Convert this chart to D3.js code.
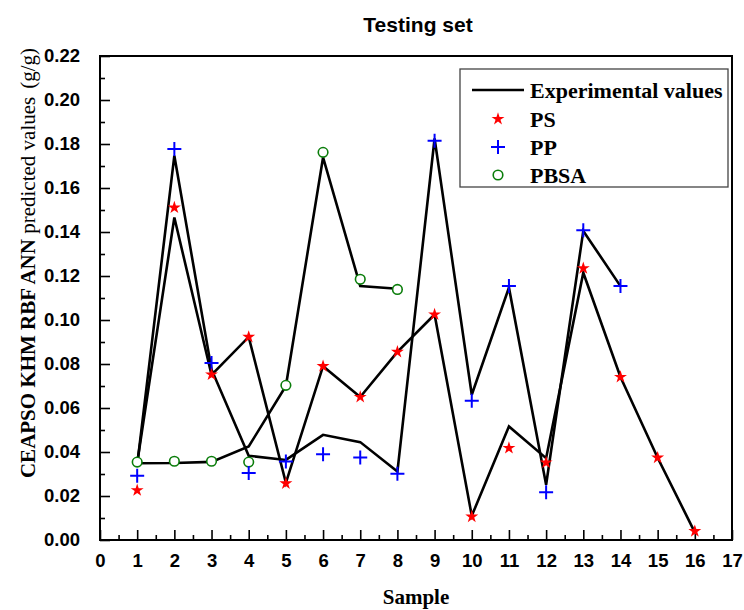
<!DOCTYPE html>
<html>
<head>
<meta charset="utf-8">
<script src="https://cdn.jsdelivr.net/npm/d3@7"></script>
<style>
  body { margin: 0; background: #fff; }
  svg { display: block; }
</style>
</head>
<body>
<div id="chart"></div>
<script>
// Measured vs. predicted uptake for the testing set (g/g)
const psExperimental = [0.035, 0.1466, 0.075, 0.0923, 0.026, 0.079, 0.065, 0.0855, 0.1025, 0.011, 0.0516, 0.0372, 0.1215, 0.0741, 0.0374, 0.0035];
const psPredicted = [0.0226, 0.1511, 0.0752, 0.0923, 0.0257, 0.0790, 0.0650, 0.0855, 0.1025, 0.0106, 0.0418, 0.0352, 0.1235, 0.0741, 0.0374, 0.0040];

const ppExperimental = [0.034, 0.1747, 0.0775, 0.0383, 0.0364, 0.0478, 0.0445, 0.0311, 0.1825, 0.066, 0.1147, 0.0251, 0.1405, 0.1154];
const ppPredicted = [0.0292, 0.1777, 0.0805, 0.0304, 0.0357, 0.0390, 0.0375, 0.0301, 0.1815, 0.0633, 0.1154, 0.0217, 0.1408, 0.1154];

const pbsaExperimental = [0.0349, 0.0350, 0.0355, 0.0425, 0.0700, 0.1739, 0.1154, 0.1142];
const pbsaPredicted = [0.0354, 0.0358, 0.0358, 0.0354, 0.0703, 0.1762, 0.1185, 0.1139];

const xTickValues = [0, 1, 2, 3, 4, 5, 6, 7, 8, 9, 10, 11, 12, 13, 14, 15, 16, 17];
const yTickValues = [0, 0.02, 0.04, 0.06, 0.08, 0.10, 0.12, 0.14, 0.16, 0.18, 0.20, 0.22];
const legendLabels = ['Experimental values', 'PS', 'PP', 'PBSA'];

class TestingChart {

  constructor(_config) {
    this.config = {
      parentElement: _config.parentElement,
      containerWidth: 744,
      containerHeight: 610,
      margin: {top: 56, right: 12, bottom: 70, left: 100},
      sansFont: '"Liberation Sans", Arial, sans-serif',
      serifFont: '"Liberation Serif", "Times New Roman", serif'
    };
    this.initVis();
  }

  initVis() {
    let vis = this;
    const cfg = vis.config;

    vis.width = cfg.containerWidth - cfg.margin.left - cfg.margin.right;
    vis.height = cfg.containerHeight - cfg.margin.top - cfg.margin.bottom;

    vis.svg = d3.select(cfg.parentElement).append('svg')
        .attr('width', cfg.containerWidth)
        .attr('height', cfg.containerHeight);

    vis.chart = vis.svg.append('g')
        .attr('transform', `translate(${cfg.margin.left},${cfg.margin.top})`);

    vis.xScale = d3.scaleLinear().domain([0, 17]).range([0, vis.width]);
    vis.yScale = d3.scaleLinear().domain([0, 0.22]).range([vis.height, 0]);

    vis.renderAxes();
    vis.renderSeries();
    vis.renderLegend();
    vis.renderTitles();
  }

  renderAxes() {
    let vis = this;
    const cfg = vis.config;

    // minor ticks first, inward
    vis.chart.append('g')
        .attr('transform', `translate(0,${vis.height})`)
        .call(d3.axisBottom(vis.xScale).tickValues(xTickValues.slice(0, -1).map(d => d + 0.5))
          .tickSize(-5).tickFormat(''))
        .call(g => g.select('.domain').remove());
    vis.chart.append('g')
        .call(d3.axisLeft(vis.yScale).tickValues(yTickValues.slice(0, -1).map(d => d + 0.01))
          .tickSize(-5).tickFormat(''))
        .call(g => g.select('.domain').remove());

    const xAxis = vis.chart.append('g')
        .attr('transform', `translate(0,${vis.height})`)
        .call(d3.axisBottom(vis.xScale).tickValues(xTickValues).tickSize(-10).tickPadding(14)
          .tickFormat(d3.format('d')));
    const yAxis = vis.chart.append('g')
        .call(d3.axisLeft(vis.yScale).tickValues(yTickValues).tickSize(-10).tickPadding(20)
          .tickFormat(d3.format('.2f')));

    [xAxis, yAxis].forEach(g => {
      g.selectAll('.domain').remove();
      g.selectAll('text')
          .attr('fill', '#000')
          .style('font-family', cfg.sansFont)
          .style('font-weight', 'bold')
          .style('font-size', '18.5px');
    });
    vis.chart.selectAll('.tick line').attr('stroke', '#000').attr('stroke-width', 1.6);

    // plot frame
    vis.chart.append('rect')
        .attr('width', vis.width)
        .attr('height', vis.height)
        .attr('fill', 'none')
        .attr('stroke', '#000')
        .attr('stroke-width', 2);
  }

  renderSeries() {
    let vis = this;

    const line = d3.line()
        .x((d, i) => vis.xScale(i + 1))
        .y(d => vis.yScale(d));

    [psExperimental, ppExperimental, pbsaExperimental].forEach(values => {
      vis.chart.append('path')
          .datum(values)
          .attr('fill', 'none')
          .attr('stroke', '#000')
          .attr('stroke-width', 2.6)
          .attr('stroke-linejoin', 'miter')
          .attr('d', line);
    });

    // PBSA: open circles
    vis.chart.selectAll('.pbsa')
        .data(pbsaPredicted)
      .join('circle')
        .attr('class', 'pbsa')
        .attr('cx', (d, i) => vis.xScale(i + 1))
        .attr('cy', d => vis.yScale(d))
        .attr('r', 4.8)
        .attr('fill', '#fff')
        .attr('stroke', '#0a7d0a')
        .attr('stroke-width', 1.6);

    // PP: plus signs
    vis.chart.selectAll('.pp')
        .data(ppPredicted)
      .join('path')
        .attr('class', 'pp')
        .attr('transform', (d, i) => `translate(${vis.xScale(i + 1)},${vis.yScale(d)})`)
        .attr('d', vis.plusPath(7))
        .attr('stroke', '#0000ff')
        .attr('stroke-width', 2);

    // PS: filled stars
    vis.chart.selectAll('.ps')
        .data(psPredicted)
      .join('path')
        .attr('class', 'ps')
        .attr('transform', (d, i) => `translate(${vis.xScale(i + 1)},${vis.yScale(d)})`)
        .attr('d', d3.symbol(d3.symbolStar, 52)())
        .attr('fill', '#ff0000');
  }

  plusPath(h) {
    return `M${-h},0H${h}M0,${-h}V${h}`;
  }

  renderLegend() {
    let vis = this;
    const cfg = vis.config;

    const legend = vis.svg.append('g').attr('transform', 'translate(460,69)');
    legend.append('rect')
        .attr('width', 268)
        .attr('height', 118)
        .attr('fill', '#fff')
        .attr('stroke', '#444')
        .attr('stroke-width', 1.3);

    const rowY = [21, 50, 78, 106];
    const symX = 38;

    legend.selectAll('text')
        .data(legendLabels)
      .join('text')
        .attr('x', 70)
        .attr('y', (d, i) => rowY[i])
        .attr('dy', '0.35em')
        .style('font-family', cfg.serifFont)
        .style('font-weight', 'bold')
        .style('font-size', '22px')
        .text(d => d);

    legend.append('line')
        .attr('x1', 12).attr('x2', 64)
        .attr('y1', rowY[0]).attr('y2', rowY[0])
        .attr('stroke', '#000')
        .attr('stroke-width', 2.6);
    legend.append('path')
        .attr('transform', `translate(${symX},${rowY[1]})`)
        .attr('d', d3.symbol(d3.symbolStar, 52)())
        .attr('fill', '#ff0000');
    legend.append('path')
        .attr('transform', `translate(${symX},${rowY[2]})`)
        .attr('d', vis.plusPath(7))
        .attr('stroke', '#0000ff')
        .attr('stroke-width', 2);
    legend.append('circle')
        .attr('cx', symX).attr('cy', rowY[3])
        .attr('r', 4.8)
        .attr('fill', '#fff')
        .attr('stroke', '#0a7d0a')
        .attr('stroke-width', 1.6);
  }

  renderTitles() {
    let vis = this;
    const cfg = vis.config;

    vis.svg.append('text')
        .attr('x', cfg.margin.left + vis.width / 2 + 2)
        .attr('y', 32)
        .attr('text-anchor', 'middle')
        .style('font-family', cfg.sansFont)
        .style('font-weight', 'bold')
        .style('font-size', '21px')
        .text('Testing set');

    vis.svg.append('text')
        .attr('x', cfg.margin.left + vis.width / 2)
        .attr('y', 604)
        .attr('text-anchor', 'middle')
        .style('font-family', cfg.serifFont)
        .style('font-weight', 'bold')
        .style('font-size', '21px')
        .text('Sample');

    const yLabel = vis.svg.append('text')
        .attr('transform', 'translate(35,263) rotate(-90)')
        .attr('text-anchor', 'middle')
        .style('font-family', cfg.serifFont)
        .style('font-size', '21px');
    yLabel.append('tspan').style('font-weight', 'bold').text('CEAPSO KHM RBF ANN ');
    yLabel.append('tspan').text('predicted values');
    yLabel.append('tspan').attr('dx', 8).text('(g/g)');
  }
}

new TestingChart({parentElement: '#chart'});
</script>
</body>
</html>
